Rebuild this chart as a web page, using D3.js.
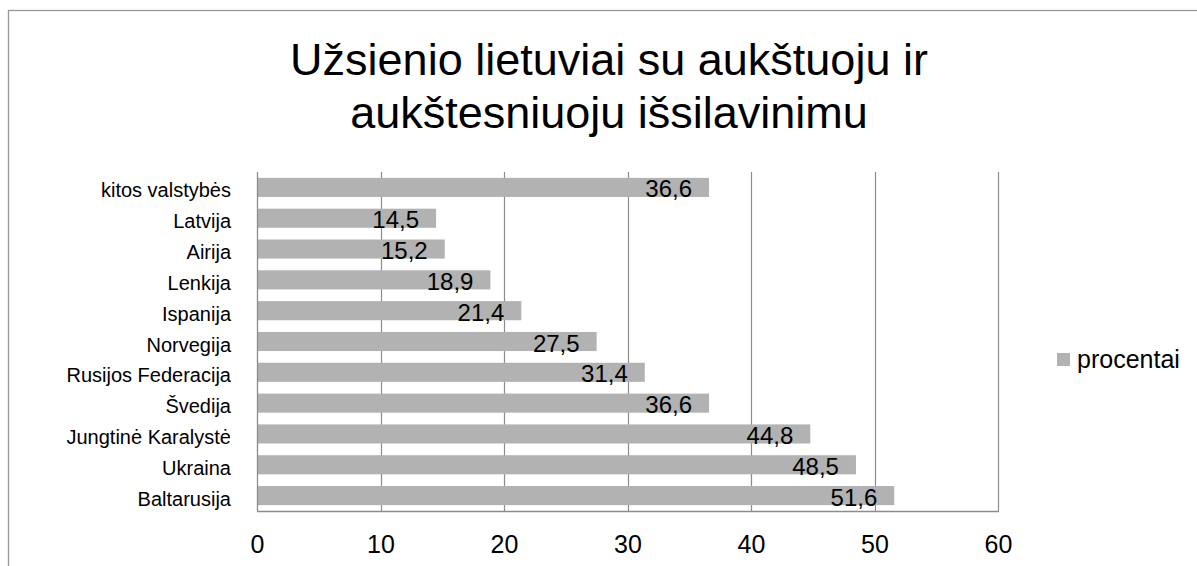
<!DOCTYPE html>
<html>
<head>
<meta charset="utf-8">
<script src="https://cdn.jsdelivr.net/npm/d3@7"></script>
<style>
  html, body { margin: 0; padding: 0; background: #fff; }
  svg { display: block; }
  text { font-family: "Liberation Sans", Arial, sans-serif; fill: #000; }
</style>
</head>
<body>
<svg id="chart" width="1197" height="566"></svg>
<script>
const titleLines = ["Užsienio lietuviai su aukštuoju ir", "aukštesniuoju išsilavinimu"];
const categories = ["kitos valstybės", "Latvija", "Airija", "Lenkija", "Ispanija", "Norvegija",
  "Rusijos Federacija", "Švedija", "Jungtinė Karalystė", "Ukraina", "Baltarusija"];
const values = [36.6, 14.5, 15.2, 18.9, 21.4, 27.5, 31.4, 36.6, 44.8, 48.5, 51.6];
const xTicks = [0, 10, 20, 30, 40, 50, 60];
const seriesName = "procentai";

const svg = d3.select("#chart");
const W = 1197, H = 566;
const plot = { left: 257, right: 998, top: 172, bottom: 511 };

// outer frame
svg.append("rect").attr("x", 8.5).attr("y", 10.5).attr("width", W + 20).attr("height", H + 20)
  .attr("fill", "none").attr("stroke", "#999").attr("stroke-width", 1.3);

// title
const title = svg.append("text").attr("text-anchor", "middle").style("font-size", "45px");
title.selectAll("tspan").data(titleLines).join("tspan")
  .attr("x", 609).attr("y", (d, i) => 75 + i * 53).text(d => d);

const x = d3.scaleLinear().domain([0, 60]).range([plot.left, plot.right]);
const y = d3.scaleBand().domain(categories).range([plot.top, plot.bottom])
  .paddingInner(0.38).paddingOuter(0.19);

// gridlines
svg.append("g").selectAll("line").data(xTicks.slice(1)).join("line")
  .attr("x1", d => Math.round(x(d)) + 0.5).attr("x2", d => Math.round(x(d)) + 0.5)
  .attr("y1", plot.top).attr("y2", plot.bottom)
  .attr("stroke", "#8c8c8c").attr("stroke-width", 1.2);

// bars
const data = categories.map((c, i) => ({ c, v: values[i] }));
svg.append("g").selectAll("rect").data(data).join("rect")
  .attr("x", x(0)).attr("y", d => y(d.c))
  .attr("width", d => x(d.v) - x(0)).attr("height", y.bandwidth())
  .attr("fill", "#b2b2b2");

// axes lines
svg.append("line").attr("x1", plot.left + 0.5).attr("x2", plot.left + 0.5)
  .attr("y1", plot.top).attr("y2", plot.bottom + 0.5).attr("stroke", "#8c8c8c").attr("stroke-width", 1.3);
svg.append("line").attr("x1", plot.left).attr("x2", plot.right + 1)
  .attr("y1", plot.bottom + 0.5).attr("y2", plot.bottom + 0.5).attr("stroke", "#8c8c8c").attr("stroke-width", 1.3);

// x tick labels
const xAxis = d3.axisBottom(x).tickValues(xTicks).tickSize(0).tickPadding(0).tickFormat(d3.format("d"));
const gx = svg.append("g").attr("transform", `translate(0,${plot.bottom})`).call(xAxis);
gx.select(".domain").remove();
gx.selectAll("text").attr("dy", null).attr("y", 42).style("font-size", "25px")
  .style("font-family", "'Liberation Sans', Arial, sans-serif").attr("fill", "#000");

// y category labels
const yAxis = d3.axisLeft(y).tickSize(0).tickPadding(0);
const gy = svg.append("g").attr("transform", `translate(231,0)`).call(yAxis);
gy.select(".domain").remove();
gy.selectAll("text").attr("dy", "0.5em").style("font-size", "20px")
  .style("font-family", "'Liberation Sans', Arial, sans-serif").attr("fill", "#000");

// data labels
const fmt = v => d3.format(".1f")(v).replace(".", ",");
svg.append("g").selectAll("text").data(data).join("text")
  .attr("x", d => x(d.v) - 17).attr("y", d => y(d.c) + y.bandwidth() / 2)
  .attr("dy", "0.42em").attr("text-anchor", "end").style("font-size", "24px")
  .text(d => fmt(d.v));

// legend
const lg = svg.append("g").attr("transform", "translate(1057,353)");
lg.append("rect").attr("width", 13).attr("height", 13).attr("fill", "#b2b2b2");
lg.append("text").attr("x", 20).attr("y", 15).style("font-size", "25px").text(seriesName);
</script>
</body>
</html>
